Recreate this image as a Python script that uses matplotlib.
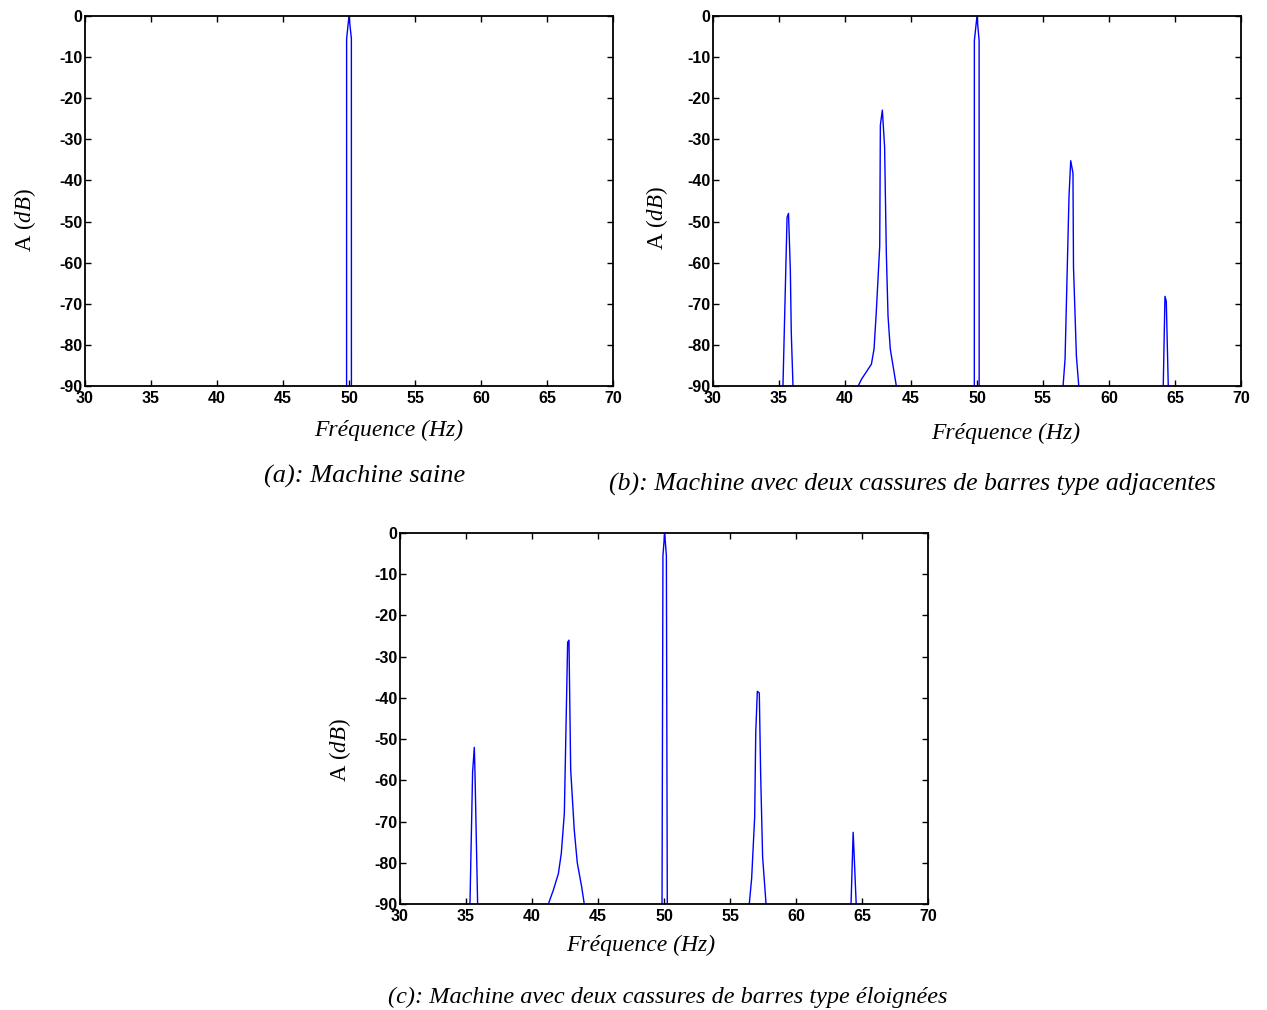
import numpy as np
import matplotlib
matplotlib.use("Agg")
import matplotlib.pyplot as plt

# Spectres du courant statorique (dB) autour de 50 Hz
# -300 dB = plancher hors de l'echelle, entre les raies
freq_a = [30.0, 49.81, 49.82, 50.0, 50.18, 50.19, 70.0]
amp_a = [-300, -300, -5.5, 0.0, -5.5, -300, -300]

freq_b = [30.0, 35.28, 35.30, 35.61, 35.72, 35.86, 35.93, 36.06, 36.08,
          40.98, 41.00, 41.24, 42.00, 42.20, 42.37, 42.63, 42.68, 42.83,
          43.00, 43.13, 43.26, 43.43, 43.89, 43.91,
          49.79, 49.80, 50.00, 50.16, 50.17,
          56.50, 56.52, 56.67, 56.97, 57.10, 57.27, 57.31, 57.53, 57.71, 57.73,
          64.10, 64.11, 64.24, 64.34, 64.49, 64.51, 70.0]
amp_b = [-300, -300, -90, -49, -48, -62, -77, -90, -300,
         -300, -90, -88.4, -84.7, -81, -72, -56, -26.5, -22.9,
         -31.8, -57.6, -73, -81, -90, -300,
         -300, -6, 0.0, -6, -300,
         -300, -90, -83.5, -43.9, -35.2, -38.2, -61, -82.7, -90, -300,
         -300, -90, -68.2, -69.4, -90, -300, -300]

freq_c = [30.0, 35.28, 35.30, 35.50, 35.63, 35.68, 35.88, 35.90,
          41.22, 41.24, 41.62, 42.00, 42.22, 42.45, 42.70, 42.80, 42.93,
          43.20, 43.43, 43.76, 43.96, 43.98,
          49.84, 49.85, 49.92, 50.05, 50.18, 50.25, 50.26,
          56.44, 56.46, 56.64, 56.87, 56.95, 57.07, 57.22, 57.32, 57.47, 57.73, 57.75,
          64.15, 64.17, 64.33, 64.40, 64.56, 64.58, 70.0]
amp_c = [-300, -300, -90, -58, -52, -58, -90, -300,
         -300, -90, -86.6, -82.6, -77.7, -68, -26.5, -26, -57.4,
         -72, -80, -85.8, -90, -300,
         -300, -90, -5.5, 0.0, -5.5, -90, -300,
         -300, -90, -83.8, -68.8, -48.5, -38.4, -38.8, -58.2, -78.5, -90, -300,
         -300, -90, -72.6, -77.7, -90, -300, -300]

x_ticks = [30, 35, 40, 45, 50, 55, 60, 65, 70]
y_ticks = [0, -10, -20, -30, -40, -50, -60, -70, -80, -90]

captions = ["(a): Machine saine",
            "(b): Machine avec deux cassures de barres type adjacentes",
            "(c): Machine avec deux cassures de barres type éloignées"]

plt.rcParams["axes.unicode_minus"] = False
plt.rcParams["mathtext.fontset"] = "custom"
plt.rcParams["mathtext.rm"] = "Liberation Serif"
plt.rcParams["mathtext.it"] = "Liberation Serif:italic"

W, H = 1267, 1010
fig = plt.figure(figsize=(W / 100, H / 100), dpi=100)


def px_axes(left, right, top, bottom):
    return fig.add_axes([left / W, 1 - bottom / H, (right - left) / W, (bottom - top) / H])


def draw_panel(ax, f, a):
    ax.plot(f, a, color=(0, 0, 1), lw=1.0)
    ax.set_xlim(30, 70)
    ax.set_ylim(-90, 0)
    ax.set_xticks(x_ticks)
    ax.set_yticks(y_ticks)
    ax.tick_params(direction="in", top=True, right=True, length=4, width=1,
                   labelsize=11.5)
    ax.tick_params(axis="x", pad=3.5)
    ax.tick_params(axis="y", pad=2)
    for lab in ax.get_xticklabels() + ax.get_yticklabels():
        lab.set_fontfamily("Liberation Sans")
        lab.set_fontweight("bold")
    for sp in ax.spines.values():
        sp.set_linewidth(1.3)


serif = dict(family="Liberation Serif", style="italic")

ax_a = px_axes(85, 613, 16, 386)
draw_panel(ax_a, freq_a, amp_a)
ax_b = px_axes(713, 1241, 16, 386)
draw_panel(ax_b, freq_b, amp_b)
ax_c = px_axes(400, 928, 533, 904)
draw_panel(ax_c, freq_c, amp_c)

# libelles d'axes
for (x, y) in [(389, 430), (1006, 433), (641, 945)]:
    fig.text(x / W, 1 - y / H, "Fréquence (Hz)", ha="center", va="center",
             fontsize=17, **serif)
for (x, y) in [(25, 220), (657, 218), (340, 750)]:
    fig.text(x / W, 1 - y / H, r"A $\mathit{(dB)}$", ha="center", va="center",
             rotation=90, fontsize=16.5, family="Liberation Serif")

# legendes sous les graphes
for cap, (x, y), fs in zip(captions, [(365, 476), (912, 484), (668, 997)],
                           [19, 18.5, 17.5]):
    fig.text(x / W, 1 - y / H, cap, ha="center", va="center", fontsize=fs, **serif)

fig.savefig("out.png", dpi=100)
